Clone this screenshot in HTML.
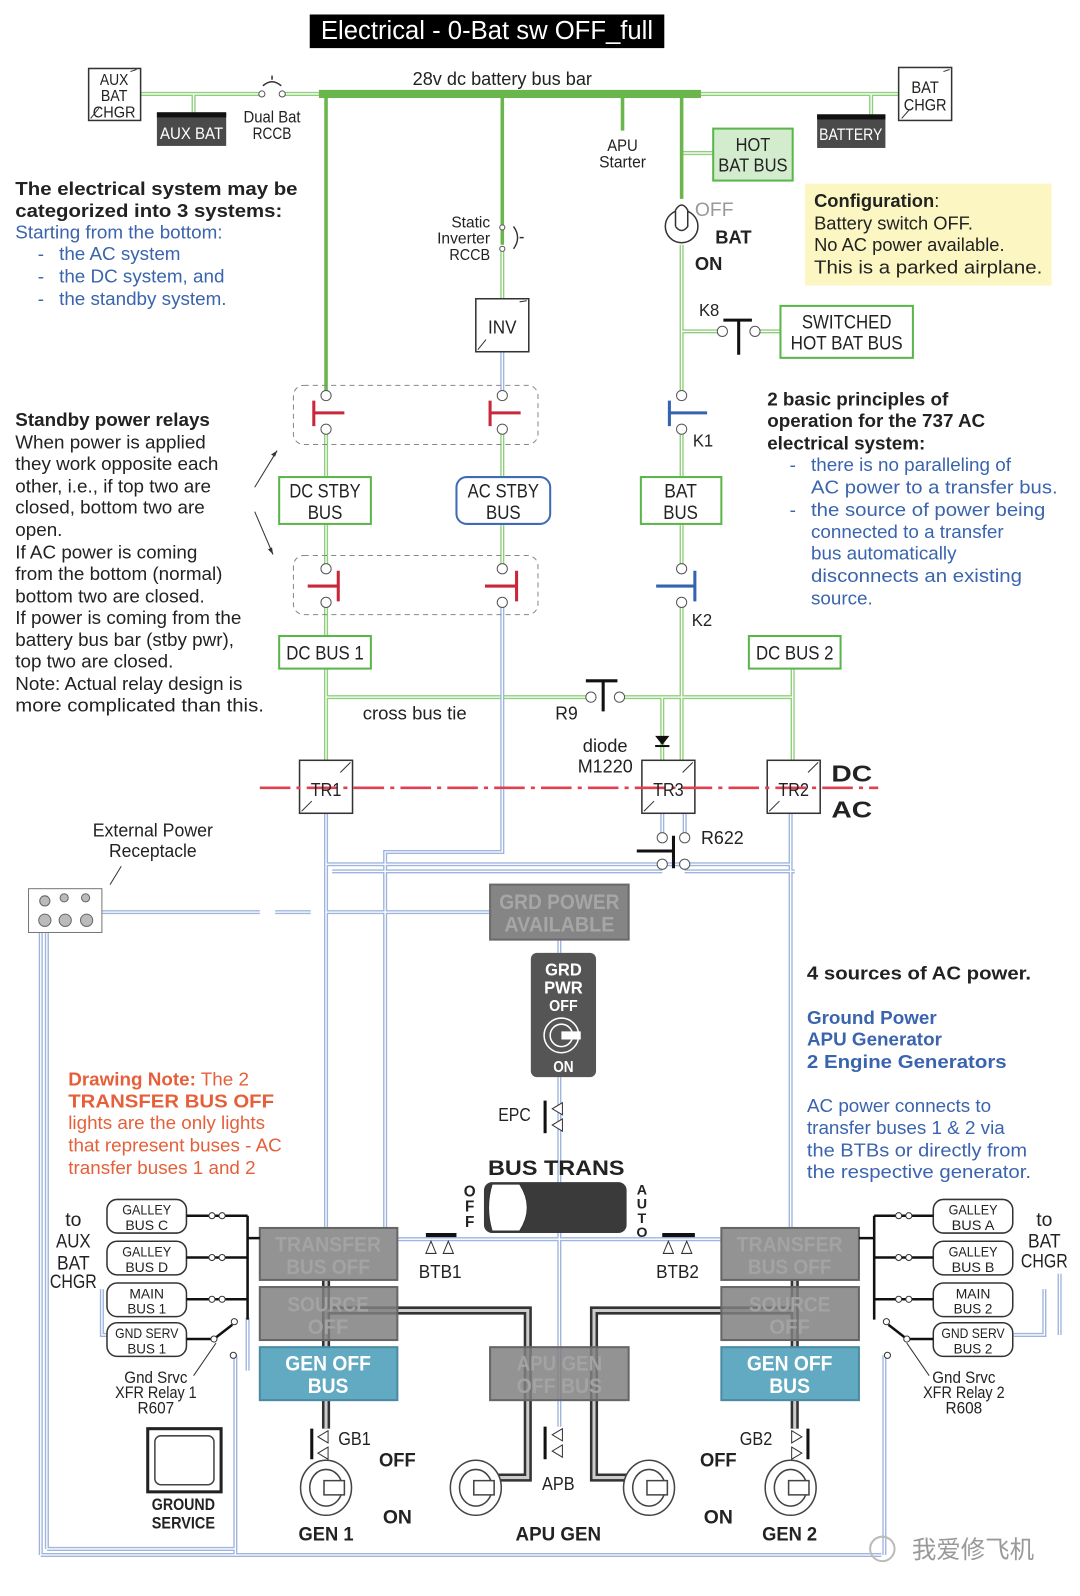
<!DOCTYPE html>
<html><head><meta charset="utf-8"><style>
html,body{margin:0;padding:0;background:#fff}
svg{display:block}
text{font-family:"Liberation Sans Narrow","Liberation Sans",sans-serif;fill:#222}
.t{font-family:"Liberation Sans",sans-serif}
.b{font-weight:bold}
.bl{fill:#3a64ad}
.rd{fill:#e5603a}
.m{text-anchor:middle}
</style></head><body>
<svg width="1080" height="1596" viewBox="0 0 1060 1566" xmlns="http://www.w3.org/2000/svg">
<defs>
<g id="G" fill="none">
<path d="M138 92H255M277 92H313M688 92H882M190 92V110M855 92V112"/>
<path d="M493 244V293M669 240V388M669 325H709M741 325H766M669 150H700"/>
<path d="M320 421V468M493 421V468M669 421V468M320 514V558M493 514V558M669 514V558M320 591V624M669 591V746M778 656V746M320 656V746M320 684H580M608 684H778M650 684V746"/>
</g>
<g id="B" fill="none">
<path d="M493 345V388M493 591V836H378V1205M320 798V1205M776 798V1205M650 798V818M672 798V818M320 848H776M326 855H650M672 855H780"/>
<path d="M100 895H255M270 895H305M320 895H480M40 915V1526M46 915V1520M549 922V935M549 1057V1160M549 1210V1400M390 1216H707"/>
<path d="M243 1293V1345M231 1330V1526M46 1520H231M231 1526H865M40 1526H231M100 1265V1310H105M1025 1265V1310H995M868 1330V1526M1040 1250V1310"/>
</g>
</defs>
<rect x="304" y="14" width="348" height="33" fill="#000"/>
<text x="478" y="38" class="m" style="fill:#fff;font-size:25px" textLength="326" lengthAdjust="spacingAndGlyphs">Electrical - 0-Bat sw OFF_full</text>

<use href="#G" stroke="#8fcf7c" stroke-width="4"/>
<use href="#G" stroke="#fff" stroke-width="1.3"/>
<use href="#B" stroke="#9fb5df" stroke-width="4"/>
<use href="#B" stroke="#fff" stroke-width="1.3"/>

<rect x="313" y="88" width="375" height="8" fill="#6ab64c"/>
<path d="M320 96V388M493 96V240M611 96V128M669 96V195" stroke="#6ab64c" stroke-width="3.5" fill="none"/>
<text x="493" y="83" class="m" style="font-size:18px" textLength="176" lengthAdjust="spacingAndGlyphs">28v dc battery bus bar</text>

<rect x="87" y="67" width="51" height="51" fill="#fff" stroke="#333" stroke-width="1.5"/>
<path d="M89 116L97 106M128 70L134 68" stroke="#333"/>
<text x="112" y="83" class="m" style="font-size:15px" textLength="28" lengthAdjust="spacingAndGlyphs">AUX</text><text x="112" y="99" class="m" style="font-size:15px" textLength="26" lengthAdjust="spacingAndGlyphs">BAT</text><text x="112" y="115" class="m" style="font-size:15px" textLength="42" lengthAdjust="spacingAndGlyphs">CHGR</text>
<rect x="882" y="66" width="52" height="52" fill="#fff" stroke="#333" stroke-width="1.5"/>
<path d="M885 116L892 108M926 70L932 68" stroke="#333"/>
<text x="908" y="91" class="m" style="font-size:16px" textLength="27" lengthAdjust="spacingAndGlyphs">BAT</text><text x="908" y="108" class="m" style="font-size:16px" textLength="42" lengthAdjust="spacingAndGlyphs">CHGR</text>
<rect x="154" y="110" width="68" height="33" fill="#4a4a4a"/><rect x="154" y="110" width="68" height="5" fill="#111"/>
<text x="188" y="136" class="m" style="fill:#fff;font-size:16px" textLength="62" lengthAdjust="spacingAndGlyphs">AUX BAT</text>
<rect x="802" y="112" width="67" height="33" fill="#4a4a4a"/><rect x="802" y="112" width="67" height="5" fill="#111"/>
<text x="835" y="137" class="m" style="fill:#fff;font-size:16px" textLength="62" lengthAdjust="spacingAndGlyphs">BATTERY</text>
<circle cx="257" cy="92" r="3" fill="#fff" stroke="#555"/><circle cx="277" cy="92" r="3" fill="#fff" stroke="#555"/>
<path d="M258 84Q267 76 276 84M267 78V74" stroke="#333" fill="none" stroke-width="1.5"/>
<text x="267" y="120" class="m" style="font-size:16px" textLength="56" lengthAdjust="spacingAndGlyphs">Dual Bat</text><text x="267" y="136" class="m" style="font-size:16px" textLength="38" lengthAdjust="spacingAndGlyphs">RCCB</text>
<text x="611" y="148" class="m" style="font-size:16px" textLength="30" lengthAdjust="spacingAndGlyphs">APU</text><text x="611" y="164" class="m" style="font-size:16px" textLength="46" lengthAdjust="spacingAndGlyphs">Starter</text>
<rect x="700" y="126" width="78" height="51" fill="#d4ecce" stroke="#5ab64a" stroke-width="2"/>
<text x="739" y="148" class="m" style="font-size:18px" textLength="34" lengthAdjust="spacingAndGlyphs">HOT</text><text x="739" y="168" class="m" style="font-size:18px" textLength="68" lengthAdjust="spacingAndGlyphs">BAT BUS</text>

<circle cx="493" cy="223" r="2.5" fill="#fff" stroke="#555"/><circle cx="493" cy="244" r="2.5" fill="#fff" stroke="#555"/>
<path d="M504 222Q512 233 504 244M510 233H514" stroke="#333" fill="none" stroke-width="1.4"/>
<text x="481" y="223" style="font-size:15px;text-anchor:end" textLength="38" lengthAdjust="spacingAndGlyphs">Static</text><text x="481" y="239" style="font-size:15px;text-anchor:end" textLength="52" lengthAdjust="spacingAndGlyphs">Inverter</text><text x="481" y="255" style="font-size:15px;text-anchor:end" textLength="40" lengthAdjust="spacingAndGlyphs">RCCB</text>
<rect x="467" y="293" width="52" height="52" fill="#fff" stroke="#333" stroke-width="1.5"/>
<path d="M469 343L477 333M510 296L517 295" stroke="#333"/>
<text x="493" y="327" class="m" style="font-size:18px" textLength="28" lengthAdjust="spacingAndGlyphs">INV</text>

<circle cx="669" cy="222" r="16" fill="#fff" stroke="#333" stroke-width="1.5"/>
<path d="M663 222V206Q669 196 675 206V222Q669 230 663 222" fill="#fff" stroke="#333" stroke-width="1.5"/>
<text x="682" y="212" style="font-size:19px;fill:#999" textLength="38" lengthAdjust="spacingAndGlyphs">OFF</text>
<text x="702" y="239" class="t b" style="font-size:18px">BAT</text>
<text x="682" y="265" class="t b" style="font-size:18px">ON</text>
<text x="686" y="310" style="font-size:17px" textLength="20" lengthAdjust="spacingAndGlyphs">K8</text>
<circle cx="709" cy="325" r="5" fill="#fff" stroke="#555"/><circle cx="741" cy="325" r="5" fill="#fff" stroke="#555"/>
<path d="M710 314H738M725 314V348" stroke="#111" stroke-width="3"/>
<rect x="766" y="300" width="130" height="51" fill="#fff" stroke="#5ab64a" stroke-width="2"/>
<text x="831" y="322" class="m" style="font-size:19px" textLength="88" lengthAdjust="spacingAndGlyphs">SWITCHED</text><text x="831" y="343" class="m" style="font-size:19px" textLength="110" lengthAdjust="spacingAndGlyphs">HOT BAT BUS</text>

<rect x="790" y="180" width="242" height="100" fill="#fbf6c2"/>
<g style="font-size:18px"><text x="799" y="203" class="t"><tspan class="b">Configuration</tspan>:</text>
<text x="799" y="225" class="t">Battery switch OFF.</text><text x="799" y="246" class="t">No AC power available.</text><text x="799" y="268" class="t" textLength="224" lengthAdjust="spacingAndGlyphs">This is a parked airplane.</text></g>

<g style="font-size:18.5px">
<text x="15" y="191" class="t b" textLength="277" lengthAdjust="spacingAndGlyphs">The electrical system may be</text>
<text x="15" y="213" class="t b" textLength="262" lengthAdjust="spacingAndGlyphs">categorized into 3 systems:</text>
<text x="15" y="234" class="t bl">Starting from the bottom:</text>
<text x="37" y="255" class="t bl">-</text><text x="58" y="255" class="t bl">the AC system</text>
<text x="37" y="277" class="t bl">-</text><text x="58" y="277" class="t bl">the DC system, and</text>
<text x="37" y="299" class="t bl">-</text><text x="58" y="299" class="t bl">the standby system.</text>
<text x="15" y="418" class="t b">Standby power relays</text>
<text x="15" y="440" class="t">When power is applied</text>
<text x="15" y="461" class="t">they work opposite each</text>
<text x="15" y="483" class="t">other, i.e., if top two are</text>
<text x="15" y="504" class="t">closed, bottom two are</text>
<text x="15" y="526" class="t">open.</text>
<text x="15" y="548" class="t">If AC power is coming</text>
<text x="15" y="569" class="t">from the bottom (normal)</text>
<text x="15" y="591" class="t">bottom two are closed.</text>
<text x="15" y="612" class="t">If power is coming from the</text>
<text x="15" y="634" class="t">battery bus bar (stby pwr),</text>
<text x="15" y="655" class="t">top two are closed.</text>
<text x="15" y="677" class="t">Note: Actual relay design is</text>
<text x="15" y="698" class="t" textLength="244" lengthAdjust="spacingAndGlyphs">more complicated than this.</text>
</g>
<path d="M250 478L272 442M250 502L268 544" stroke="#333" fill="none"/>
<path d="M272 442l-6 4 4 2z M268 544l-1-7-4 2z" fill="#333"/>

<g style="font-size:18.5px">
<text x="753" y="398" class="t b">2 basic principles of</text>
<text x="753" y="419" class="t b">operation for the 737 AC</text>
<text x="753" y="441" class="t b">electrical system:</text>
<text x="775" y="462" class="t bl">-</text><text x="796" y="462" class="t bl">there is no paralleling of</text>
<text x="796" y="484" class="t bl" textLength="242" lengthAdjust="spacingAndGlyphs">AC power to a transfer bus.</text>
<text x="775" y="506" class="t bl">-</text><text x="796" y="506" class="t bl" textLength="230" lengthAdjust="spacingAndGlyphs">the source of power being</text>
<text x="796" y="528" class="t bl">connected to a transfer</text>
<text x="796" y="549" class="t bl">bus automatically</text>
<text x="796" y="571" class="t bl" textLength="207" lengthAdjust="spacingAndGlyphs">disconnects an existing</text>
<text x="796" y="593" class="t bl">source.</text>
</g>

<rect x="288" y="378" width="240" height="58" rx="10" fill="none" stroke="#888" stroke-dasharray="5 4"/>
<rect x="288" y="545" width="240" height="58" rx="10" fill="none" stroke="#888" stroke-dasharray="5 4"/>
<g fill="#fff" stroke="#555">
<circle cx="320" cy="388" r="5"/><circle cx="320" cy="421" r="5"/><circle cx="493" cy="388" r="5"/><circle cx="493" cy="421" r="5"/><circle cx="669" cy="388" r="5"/><circle cx="669" cy="421" r="5"/>
<circle cx="320" cy="558" r="5"/><circle cx="320" cy="591" r="5"/><circle cx="493" cy="558" r="5"/><circle cx="493" cy="591" r="5"/><circle cx="669" cy="558" r="5"/><circle cx="669" cy="591" r="5"/>
</g>
<path d="M308 393V418M308 405H338M481 393V418M481 405H511M302 575H332M332 560V590M507 560V590M476 575H507" stroke="#c8283a" stroke-width="3" fill="none"/>
<path d="M657 393V418M657 405H694M682 560V590M644 575H682" stroke="#3464b0" stroke-width="3" fill="none"/>
<text x="680" y="438" style="font-size:17px" textLength="20" lengthAdjust="spacingAndGlyphs">K1</text>
<text x="679" y="614" style="font-size:17px" textLength="20" lengthAdjust="spacingAndGlyphs">K2</text>

<rect x="274" y="468" width="90" height="46" fill="#fff" stroke="#5ab64a" stroke-width="2"/>
<text x="319" y="488" class="m" style="font-size:19px" textLength="70" lengthAdjust="spacingAndGlyphs">DC STBY</text><text x="319" y="509" class="m" style="font-size:19px" textLength="34" lengthAdjust="spacingAndGlyphs">BUS</text>
<rect x="448" y="468" width="92" height="46" rx="10" fill="#fff" stroke="#3f6bb5" stroke-width="2"/>
<text x="494" y="488" class="m" style="font-size:19px" textLength="70" lengthAdjust="spacingAndGlyphs">AC STBY</text><text x="494" y="509" class="m" style="font-size:19px" textLength="34" lengthAdjust="spacingAndGlyphs">BUS</text>
<rect x="629" y="468" width="79" height="46" fill="#fff" stroke="#5ab64a" stroke-width="2"/>
<text x="668" y="488" class="m" style="font-size:19px" textLength="32" lengthAdjust="spacingAndGlyphs">BAT</text><text x="668" y="509" class="m" style="font-size:19px" textLength="34" lengthAdjust="spacingAndGlyphs">BUS</text>
<rect x="274" y="624" width="90" height="32" fill="#fff" stroke="#5ab64a" stroke-width="2"/>
<text x="319" y="647" class="m" style="font-size:19px" textLength="76" lengthAdjust="spacingAndGlyphs">DC BUS 1</text>
<rect x="735" y="624" width="90" height="32" fill="#fff" stroke="#5ab64a" stroke-width="2"/>
<text x="780" y="647" class="m" style="font-size:19px" textLength="76" lengthAdjust="spacingAndGlyphs">DC BUS 2</text>

<text x="356" y="706" style="font-size:18px" textLength="102" lengthAdjust="spacingAndGlyphs">cross bus tie</text>
<circle cx="580" cy="684" r="5" fill="#fff" stroke="#555"/><circle cx="608" cy="684" r="5" fill="#fff" stroke="#555"/>
<path d="M575 668H606M592 668V698" stroke="#111" stroke-width="3"/>
<text x="545" y="706" style="font-size:18px" textLength="22" lengthAdjust="spacingAndGlyphs">R9</text>
<path d="M643 722H657L650 731Z" fill="#111"/><path d="M643 732H657" stroke="#111" stroke-width="2"/>
<text x="594" y="738" class="m" style="font-size:18px" textLength="44" lengthAdjust="spacingAndGlyphs">diode</text><text x="594" y="758" class="m" style="font-size:18px" textLength="54" lengthAdjust="spacingAndGlyphs">M1220</text>

<g fill="#fff" stroke="#333" stroke-width="1.5">
<rect x="294" y="746" width="52" height="52"/><rect x="630" y="746" width="52" height="52"/><rect x="753" y="746" width="52" height="52"/>
</g>
<path d="M296 796L306 786M334 758L344 748M632 796L642 786M670 758L680 748M755 796L765 786M793 758L803 748" stroke="#333"/>
<path d="M255 773H862" stroke="#e04050" stroke-width="2.5" stroke-dasharray="30 6 4 6"/>
<text x="320" y="781" class="m" style="font-size:18px" textLength="30" lengthAdjust="spacingAndGlyphs">TR1</text>
<text x="656" y="781" class="m" style="font-size:18px" textLength="30" lengthAdjust="spacingAndGlyphs">TR3</text>
<text x="779" y="781" class="m" style="font-size:18px" textLength="30" lengthAdjust="spacingAndGlyphs">TR2</text>
<text x="816" y="767" class="t b" style="font-size:23px" textLength="40" lengthAdjust="spacingAndGlyphs">DC</text>
<text x="816" y="802" class="t b" style="font-size:23px" textLength="40" lengthAdjust="spacingAndGlyphs">AC</text>
<g fill="#fff" stroke="#555"><circle cx="650" cy="822" r="5"/><circle cx="672" cy="822" r="5"/><circle cx="650" cy="848" r="5"/><circle cx="672" cy="848" r="5"/></g>
<path d="M625 835H660M661 820V852" stroke="#111" stroke-width="3"/>
<text x="688" y="828" style="font-size:18px" textLength="42" lengthAdjust="spacingAndGlyphs">R622</text>

<text x="150" y="821" class="m" style="font-size:18px" textLength="118" lengthAdjust="spacingAndGlyphs">External Power</text><text x="150" y="841" class="m" style="font-size:18px" textLength="86" lengthAdjust="spacingAndGlyphs">Receptacle</text>
<path d="M108 868L119 850" stroke="#333"/>
<rect x="28" y="872" width="72" height="43" fill="#fff" stroke="#777"/>
<g fill="#bbb" stroke="#666"><circle cx="44" cy="884" r="5"/><circle cx="63" cy="881" r="4"/><circle cx="84" cy="881" r="4"/><circle cx="44" cy="903" r="6"/><circle cx="64" cy="903" r="6"/><circle cx="85" cy="903" r="6"/></g>

<rect x="481" y="868" width="136" height="54" fill="#858585" stroke="#6a6a6a" stroke-width="2"/>
<text x="549" y="892" class="m b" style="font-size:21px;fill:#a6a6a6" textLength="118" lengthAdjust="spacingAndGlyphs">GRD POWER</text><text x="549" y="914" class="m b" style="font-size:21px;fill:#a6a6a6" textLength="108" lengthAdjust="spacingAndGlyphs">AVAILABLE</text>
<rect x="521" y="935" width="64" height="122" rx="6" fill="#555"/>
<text x="553" y="957" class="m b" style="fill:#fff;font-size:17px" textLength="36" lengthAdjust="spacingAndGlyphs">GRD</text><text x="553" y="975" class="m b" style="fill:#fff;font-size:17px" textLength="38" lengthAdjust="spacingAndGlyphs">PWR</text><text x="553" y="992" class="m b" style="fill:#fff;font-size:15px" textLength="28" lengthAdjust="spacingAndGlyphs">OFF</text>
<circle cx="551" cy="1016" r="17" fill="none" stroke="#fff" stroke-width="1.5"/><circle cx="551" cy="1016" r="11" fill="none" stroke="#fff" stroke-width="1.5"/>
<path d="M551 1012H570V1020H551Z" fill="#fff"/>
<text x="553" y="1052" class="m b" style="fill:#fff;font-size:15px" textLength="20" lengthAdjust="spacingAndGlyphs">ON</text>

<g style="font-size:18.5px">
<text x="792" y="961" class="t b" textLength="220" lengthAdjust="spacingAndGlyphs">4 sources of AC power.</text>
<text x="792" y="1005" class="t b bl">Ground Power</text>
<text x="792" y="1026" class="t b bl">APU Generator</text>
<text x="792" y="1048" class="t b bl" textLength="196" lengthAdjust="spacingAndGlyphs">2 Engine Generators</text>
<text x="792" y="1091" class="t bl">AC power connects to</text>
<text x="792" y="1113" class="t bl">transfer buses 1 &amp; 2 via</text>
<text x="792" y="1135" class="t bl" textLength="216" lengthAdjust="spacingAndGlyphs">the BTBs or directly from</text>
<text x="792" y="1156" class="t bl" textLength="220" lengthAdjust="spacingAndGlyphs">the respective generator.</text>
<text x="67" y="1065" class="t rd"><tspan class="b">Drawing Note:</tspan> The  2</text>
<text x="67" y="1087" class="t b rd" textLength="202" lengthAdjust="spacingAndGlyphs">TRANSFER BUS OFF</text>
<text x="67" y="1108" class="t rd">lights are the only lights</text>
<text x="67" y="1130" class="t rd">that represent buses - AC</text>
<text x="67" y="1152" class="t rd">transfer buses 1 and 2</text>
</g>

<text x="521" y="1100" style="font-size:18px;text-anchor:end" textLength="32" lengthAdjust="spacingAndGlyphs">EPC</text>
<path d="M535 1080V1112" stroke="#111" stroke-width="3"/>
<path d="M552 1082L542 1088L552 1094ZM552 1098L542 1104L552 1110Z" fill="#fff" stroke="#333"/>

<text x="546" y="1153" class="m t b" style="font-size:21px" textLength="134" lengthAdjust="spacingAndGlyphs">BUS TRANS</text>
<rect x="475" y="1160" width="140" height="50" rx="8" fill="#3a3a3a"/>
<path d="M483 1162H510Q525 1185 510 1208H483Q476 1185 483 1162Z" fill="#fff" stroke="#333"/>
<text x="461" y="1174" class="m t b" style="font-size:15px">O</text><text x="461" y="1189" class="m t b" style="font-size:15px">F</text><text x="461" y="1204" class="m t b" style="font-size:15px">F</text>
<text x="630" y="1172" class="m t b" style="font-size:14px">A</text><text x="630" y="1186" class="m t b" style="font-size:14px">U</text><text x="630" y="1200" class="m t b" style="font-size:14px">T</text><text x="630" y="1214" class="m t b" style="font-size:14px">O</text>
<path d="M418 1212H448M650 1212H682" stroke="#111" stroke-width="4"/>
<path d="M423 1218L418 1230H428ZM440 1218L435 1230H445ZM656 1218L651 1230H661ZM674 1218L669 1230H679Z" fill="#fff" stroke="#333"/>
<text x="432" y="1254" class="m" style="font-size:18px" textLength="42" lengthAdjust="spacingAndGlyphs">BTB1</text>
<text x="665" y="1254" class="m" style="font-size:18px" textLength="42" lengthAdjust="spacingAndGlyphs">BTB2</text>

<g fill="none" stroke="#333" stroke-width="8">
<path d="M320 1256V1402M320 1286H518V1450H480M780 1256V1402M780 1286H583V1450H620"/>
</g>
<g fill="none" stroke="#ccc" stroke-width="3">
<path d="M320 1256V1402M320 1286H518V1450H480M780 1256V1402M780 1286H583V1450H620"/>
</g>

<g fill-opacity="0.85">
<rect x="255" y="1205" width="135" height="51" fill="#808080" stroke="#666" stroke-width="2"/>
<rect x="255" y="1263" width="135" height="52" fill="#808080" stroke="#666" stroke-width="2"/>
<rect x="708" y="1205" width="135" height="51" fill="#808080" stroke="#666" stroke-width="2"/>
<rect x="708" y="1263" width="135" height="52" fill="#808080" stroke="#666" stroke-width="2"/>
<rect x="481" y="1322" width="136" height="52" fill="#808080" stroke="#666" stroke-width="2"/>
</g>
<rect x="255" y="1322" width="135" height="52" fill="#62a9c2" stroke="#4a8aa2" stroke-width="2"/>
<rect x="708" y="1322" width="135" height="52" fill="#62a9c2" stroke="#4a8aa2" stroke-width="2"/>
<g style="font-size:21px">
<text x="322" y="1228" class="m b" style="fill:#a3a3a3" textLength="104" lengthAdjust="spacingAndGlyphs">TRANSFER</text><text x="322" y="1250" class="m b" style="fill:#a3a3a3" textLength="82" lengthAdjust="spacingAndGlyphs">BUS OFF</text>
<text x="322" y="1287" class="m b" style="fill:#a3a3a3" textLength="80" lengthAdjust="spacingAndGlyphs">SOURCE</text><text x="322" y="1309" class="m b" style="fill:#a3a3a3" textLength="40" lengthAdjust="spacingAndGlyphs">OFF</text>
<text x="775" y="1228" class="m b" style="fill:#a3a3a3" textLength="104" lengthAdjust="spacingAndGlyphs">TRANSFER</text><text x="775" y="1250" class="m b" style="fill:#a3a3a3" textLength="82" lengthAdjust="spacingAndGlyphs">BUS OFF</text>
<text x="775" y="1287" class="m b" style="fill:#a3a3a3" textLength="80" lengthAdjust="spacingAndGlyphs">SOURCE</text><text x="775" y="1309" class="m b" style="fill:#a3a3a3" textLength="40" lengthAdjust="spacingAndGlyphs">OFF</text>
<text x="549" y="1345" class="m b" style="fill:#a3a3a3" textLength="84" lengthAdjust="spacingAndGlyphs">APU GEN</text><text x="549" y="1367" class="m b" style="fill:#a3a3a3" textLength="84" lengthAdjust="spacingAndGlyphs">OFF BUS</text>
<text x="322" y="1345" class="m b" style="fill:#fff" textLength="84" lengthAdjust="spacingAndGlyphs">GEN OFF</text><text x="322" y="1367" class="m b" style="fill:#fff" textLength="40" lengthAdjust="spacingAndGlyphs">BUS</text>
<text x="775" y="1345" class="m b" style="fill:#fff" textLength="84" lengthAdjust="spacingAndGlyphs">GEN OFF</text><text x="775" y="1367" class="m b" style="fill:#fff" textLength="40" lengthAdjust="spacingAndGlyphs">BUS</text>
</g>

<g fill="#fff" stroke="#333" stroke-width="1.5">
<rect x="105" y="1177" width="78" height="33" rx="10"/><rect x="105" y="1218" width="78" height="33" rx="10"/><rect x="105" y="1259" width="78" height="33" rx="10"/><rect x="105" y="1298" width="78" height="33" rx="10"/>
<rect x="916" y="1177" width="78" height="33" rx="10"/><rect x="916" y="1218" width="78" height="33" rx="10"/><rect x="916" y="1259" width="78" height="33" rx="10"/><rect x="916" y="1298" width="78" height="33" rx="10"/>
</g>
<g fill="none" stroke="#111" stroke-width="2.5">
<path d="M183 1193H243M183 1234H243M183 1275H243M183 1314H210L228 1300M243 1193V1295M243 1215H255"/>
<path d="M916 1193H858M916 1234H858M916 1275H858M916 1314H890L872 1300M858 1193V1295M858 1215H843"/>
</g>
<g fill="#fff" stroke="#333"><circle cx="208" cy="1193" r="3"/><circle cx="218" cy="1193" r="3"/><circle cx="208" cy="1234" r="3"/><circle cx="218" cy="1234" r="3"/><circle cx="208" cy="1275" r="3"/><circle cx="218" cy="1275" r="3"/><circle cx="210" cy="1314" r="3"/><circle cx="230" cy="1297" r="3"/><circle cx="229" cy="1330" r="3"/>
<circle cx="882" cy="1193" r="3"/><circle cx="892" cy="1193" r="3"/><circle cx="882" cy="1234" r="3"/><circle cx="892" cy="1234" r="3"/><circle cx="882" cy="1275" r="3"/><circle cx="892" cy="1275" r="3"/><circle cx="890" cy="1314" r="3"/><circle cx="870" cy="1297" r="3"/><circle cx="871" cy="1330" r="3"/></g>
<g style="font-size:14px">
<text x="144" y="1192" class="m" textLength="48" lengthAdjust="spacingAndGlyphs">GALLEY</text><text x="144" y="1207" class="m" textLength="42" lengthAdjust="spacingAndGlyphs">BUS C</text>
<text x="144" y="1233" class="m" textLength="48" lengthAdjust="spacingAndGlyphs">GALLEY</text><text x="144" y="1248" class="m" textLength="42" lengthAdjust="spacingAndGlyphs">BUS D</text>
<text x="144" y="1274" class="m" textLength="34" lengthAdjust="spacingAndGlyphs">MAIN</text><text x="144" y="1289" class="m" textLength="38" lengthAdjust="spacingAndGlyphs">BUS 1</text>
<text x="144" y="1313" class="m" textLength="62" lengthAdjust="spacingAndGlyphs">GND SERV</text><text x="144" y="1328" class="m" textLength="38" lengthAdjust="spacingAndGlyphs">BUS 1</text>
<text x="955" y="1192" class="m" textLength="48" lengthAdjust="spacingAndGlyphs">GALLEY</text><text x="955" y="1207" class="m" textLength="42" lengthAdjust="spacingAndGlyphs">BUS A</text>
<text x="955" y="1233" class="m" textLength="48" lengthAdjust="spacingAndGlyphs">GALLEY</text><text x="955" y="1248" class="m" textLength="42" lengthAdjust="spacingAndGlyphs">BUS B</text>
<text x="955" y="1274" class="m" textLength="34" lengthAdjust="spacingAndGlyphs">MAIN</text><text x="955" y="1289" class="m" textLength="38" lengthAdjust="spacingAndGlyphs">BUS 2</text>
<text x="955" y="1313" class="m" textLength="62" lengthAdjust="spacingAndGlyphs">GND SERV</text><text x="955" y="1328" class="m" textLength="38" lengthAdjust="spacingAndGlyphs">BUS 2</text>
</g>
<g style="font-size:19px">
<text x="72" y="1203" class="m">to</text><text x="72" y="1224" class="m" textLength="34" lengthAdjust="spacingAndGlyphs">AUX</text><text x="72" y="1246" class="m" textLength="32" lengthAdjust="spacingAndGlyphs">BAT</text><text x="72" y="1264" class="m" textLength="46" lengthAdjust="spacingAndGlyphs">CHGR</text>
<text x="1025" y="1203" class="m">to</text><text x="1025" y="1224" class="m" textLength="32" lengthAdjust="spacingAndGlyphs">BAT</text><text x="1025" y="1244" class="m" textLength="46" lengthAdjust="spacingAndGlyphs">CHGR</text>
</g>
<path d="M190 1350L212 1318M912 1350L890 1318" stroke="#333"/>
<g style="font-size:16px">
<text x="153" y="1357" class="m" textLength="62" lengthAdjust="spacingAndGlyphs">Gnd Srvc</text><text x="153" y="1372" class="m" textLength="80" lengthAdjust="spacingAndGlyphs">XFR Relay 1</text><text x="153" y="1387" class="m" textLength="36" lengthAdjust="spacingAndGlyphs">R607</text>
<text x="946" y="1357" class="m" textLength="62" lengthAdjust="spacingAndGlyphs">Gnd Srvc</text><text x="946" y="1372" class="m" textLength="80" lengthAdjust="spacingAndGlyphs">XFR Relay 2</text><text x="946" y="1387" class="m" textLength="36" lengthAdjust="spacingAndGlyphs">R608</text>
</g>
<rect x="145" y="1402" width="72" height="62" fill="#fff" stroke="#222" stroke-width="3"/>
<rect x="152" y="1409" width="58" height="48" rx="6" fill="#fff" stroke="#444" stroke-width="1.5"/>
<text x="180" y="1482" class="m b" style="font-size:16px" textLength="62" lengthAdjust="spacingAndGlyphs">GROUND</text><text x="180" y="1500" class="m b" style="font-size:16px" textLength="62" lengthAdjust="spacingAndGlyphs">SERVICE</text>

<path d="M306 1402V1432M535 1400V1432M793 1402V1432" stroke="#111" stroke-width="3"/>
<path d="M322 1404L312 1410L322 1416ZM322 1420L312 1426L322 1432ZM552 1402L542 1408L552 1414ZM552 1418L542 1424L552 1430ZM777 1404L787 1410L777 1416ZM777 1420L787 1426L777 1432Z" fill="#fff" stroke="#333"/>
<text x="332" y="1418" style="font-size:18px" textLength="32" lengthAdjust="spacingAndGlyphs">GB1</text>
<text x="726" y="1418" style="font-size:18px" textLength="32" lengthAdjust="spacingAndGlyphs">GB2</text>
<text x="548" y="1462" class="m" style="font-size:18px" textLength="32" lengthAdjust="spacingAndGlyphs">APB</text>
<g fill="#fff" stroke="#444" stroke-width="1.5">
<ellipse cx="320" cy="1460" rx="25" ry="27"/><ellipse cx="320" cy="1460" rx="16" ry="18"/>
<ellipse cx="467" cy="1460" rx="25" ry="27"/><ellipse cx="467" cy="1460" rx="16" ry="18"/>
<ellipse cx="637" cy="1460" rx="25" ry="27"/><ellipse cx="637" cy="1460" rx="16" ry="18"/>
<ellipse cx="776" cy="1460" rx="25" ry="27"/><ellipse cx="776" cy="1460" rx="16" ry="18"/>
<path d="M318 1453H338V1467H318Z"/><path d="M465 1453H485V1467H465Z"/><path d="M635 1453H655V1467H635Z"/><path d="M774 1453H794V1467H774Z"/>
</g>
<g style="font-size:19px">
<text x="390" y="1439" class="m t b" textLength="36" lengthAdjust="spacingAndGlyphs">OFF</text><text x="390" y="1495" class="m t b">ON</text>
<text x="705" y="1439" class="m t b" textLength="36" lengthAdjust="spacingAndGlyphs">OFF</text><text x="705" y="1495" class="m t b">ON</text>
<text x="320" y="1512" class="m t b" textLength="54" lengthAdjust="spacingAndGlyphs">GEN 1</text><text x="548" y="1512" class="m t b" textLength="84" lengthAdjust="spacingAndGlyphs">APU GEN</text><text x="775" y="1512" class="m t b" textLength="54" lengthAdjust="spacingAndGlyphs">GEN 2</text>
</g>
<text x="895" y="1529" style="font-size:24px;fill:#999;font-family:'Liberation Sans','Noto Sans CJK SC',sans-serif">我爱修飞机</text>
<circle cx="866" cy="1520" r="12" fill="none" stroke="#bbb" stroke-width="2"/>
</svg>
</body></html>
